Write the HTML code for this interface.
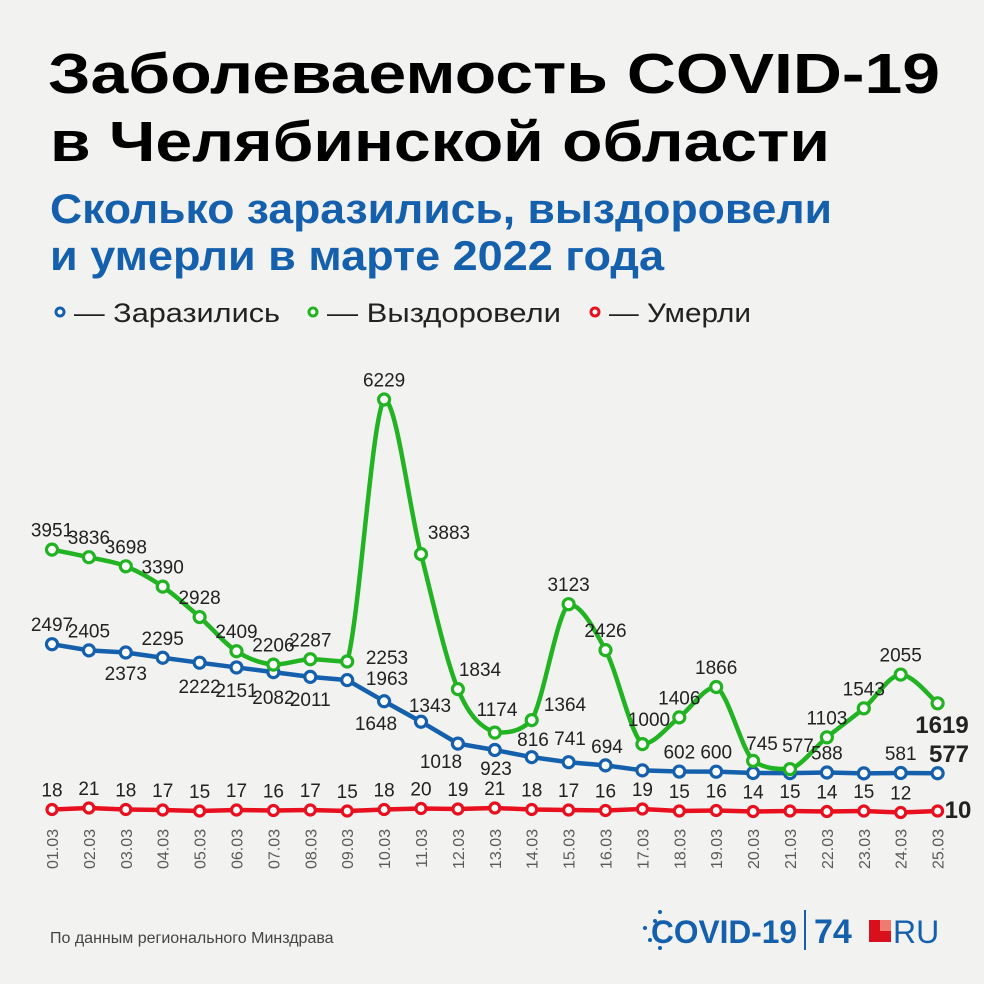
<!DOCTYPE html>
<html><head><meta charset="utf-8">
<style>
html,body{margin:0;padding:0;background:#f2f2f1;}
svg{display:block;}
text{font-family:"Liberation Sans","DejaVu Sans",sans-serif;}
</style></head>
<body>
<svg id="s" width="984" height="984" viewBox="0 0 984 984" xmlns="http://www.w3.org/2000/svg">
<rect width="984" height="984" fill="#f2f2f1"/>
<text x="48" y="93" font-size="57" font-weight="bold" fill="#000" textLength="892" lengthAdjust="spacingAndGlyphs">Заболеваемость COVID-19</text>
<text x="50" y="161" font-size="57" font-weight="bold" fill="#000" textLength="780" lengthAdjust="spacingAndGlyphs">в Челябинской области</text>
<text x="50" y="223" font-size="42" font-weight="bold" fill="#1560ad" textLength="782" lengthAdjust="spacingAndGlyphs">Сколько заразились, выздоровели</text>
<text x="50" y="270" font-size="42" font-weight="bold" fill="#1560ad" textLength="614" lengthAdjust="spacingAndGlyphs">и умерли в марте 2022 года</text>
<g font-size="27" fill="#222">
<circle cx="60" cy="312" r="4" fill="#fff" stroke="#1560ad" stroke-width="3"/>
<text x="74" y="322" textLength="206" lengthAdjust="spacingAndGlyphs">— Заразились</text>
<circle cx="313" cy="312" r="4" fill="#fff" stroke="#22b322" stroke-width="3"/>
<text x="327" y="322" textLength="234" lengthAdjust="spacingAndGlyphs">— Выздоровели</text>
<circle cx="595" cy="312" r="4" fill="#fff" stroke="#e8101e" stroke-width="3"/>
<text x="609" y="322" textLength="142" lengthAdjust="spacingAndGlyphs">— Умерли</text>
</g>
<g id="chart"></g>
<text x="50" y="943" font-size="16" fill="#444">По данным регионального Минздрава</text>
<g fill="#1560ad">
<circle cx="655" cy="921" r="2" /><circle cx="645" cy="928" r="2"/><circle cx="660" cy="912" r="2"/><circle cx="650" cy="940" r="2"/><circle cx="660" cy="948" r="2"/>
<text x="651" y="943" font-size="32" font-weight="bold" textLength="146" lengthAdjust="spacingAndGlyphs">COVID-19</text>
<rect x="804" y="910" width="2" height="40"/>
<text x="814" y="943" font-size="34" font-weight="bold">74</text>
<text x="893" y="943" font-size="32">RU</text>
</g>
<rect x="869" y="920" width="22" height="22" fill="#d8101e"/>
<rect x="880" y="920" width="11" height="11" fill="#f07a70"/>
</svg>
<script>
var NS="http://www.w3.org/2000/svg",g=document.getElementById("chart");
function el(t,a,p){var e=document.createElementNS(NS,t);for(var k in a)e.setAttribute(k,a[k]);(p||g).appendChild(e);return e;}
function X(i){return 52+i*36.9;}
var green=[3951,3836,3698,3390,2928,2409,2206,2287,2253,6229,3883,1834,1174,1364,3123,2426,1000,1406,1866,745,620,1103,1543,2055,1619];
var blue=[2497,2405,2373,2295,2222,2151,2082,2011,1963,1648,1343,1018,923,816,741,694,619,602,600,580,578,588,575,581,577];
var red=[18,21,18,17,15,17,16,17,15,18,20,19,21,18,17,16,19,15,16,14,15,14,15,12,10];
var gy=green.map(function(v){return 810-0.0659*v;}),by=blue.map(function(v){return 812-0.0672*v;}),ry=red.map(function(v){return 818.5-0.5*v;});
ry[24]=811;
for(var i=0;i<25;i++){var t=el("text",{x:0,y:0,"font-size":"16",fill:"#5a5a5a","text-anchor":"end",transform:"translate("+(X(i)+6)+",829) rotate(-90)"});t.textContent=(i+1<10?"0":"")+(i+1)+".03";}
var d="";for(i=0;i<25;i++)d+=(i?"L":"M")+X(i)+","+ry[i];
el("path",{d:d,fill:"none",stroke:"#e8101e","stroke-width":"4.5"});
d="";for(i=0;i<25;i++)d+=(i?"L":"M")+X(i)+","+by[i];
el("path",{d:d,fill:"none",stroke:"#1560ad","stroke-width":"4.5"});
function cl(v,a,b){var lo=Math.min(a,b),hi=Math.max(a,b);return Math.max(lo,Math.min(hi,v));}
d="M"+X(0)+","+gy[0];
for(i=0;i<24;i++){var x0=X(Math.max(i-1,0)),y0=gy[Math.max(i-1,0)],x1=X(i),y1=gy[i],x2=X(i+1),y2=gy[i+1],x3=X(Math.min(i+2,24)),y3=gy[Math.min(i+2,24)];
d+="C"+(x1+(x2-x0)/6)+","+cl(y1+(y2-y0)/6,y1,y2)+" "+(x2-(x3-x1)/6)+","+cl(y2-(y3-y1)/6,y1,y2)+" "+x2+","+y2;}
el("path",{d:d,fill:"none",stroke:"#22b322","stroke-width":"4.5"});
for(i=0;i<25;i++){
el("circle",{cx:X(i),cy:ry[i],r:5,fill:"#fff",stroke:"#e8101e","stroke-width":"3.2"});
el("circle",{cx:X(i),cy:by[i],r:5.5,fill:"#fff",stroke:"#1560ad","stroke-width":"3.2"});
el("circle",{cx:X(i),cy:gy[i],r:5.5,fill:"#fff",stroke:"#22b322","stroke-width":"3.2"});}
function lab(x,y,s,b){var t=el("text",{x:x,y:y,"font-size":b?"24":"19",fill:"#222","text-anchor":"middle","font-weight":b?"bold":"normal"});t.textContent=s;}
var gl={8:[387,664],10:[449,539],11:[480,676],12:[497,716],13:[565,711],16:[649,726],19:[762,750],20:[798,752]};
var gt=green.slice();gt[20]=577;
for(i=0;i<24;i++){var p=gl[i]||[X(i),gy[i]-13];lab(p[0],p[1],gt[i]);}
lab(942,733,"1619",1);
var bl={2:[X(2),680],4:[X(4),693],5:[X(5),697],6:[X(6),704],7:[X(7),706],8:[387,685],9:[376,730],10:[430,712],11:[441,768],12:[496,775],13:[533,746],14:[570,745],15:[607,753]};
var skip={16:1,19:1,20:1,22:1};
for(i=0;i<24;i++){if(skip[i])continue;var p=bl[i]||[X(i),by[i]-13];lab(p[0],p[1],blue[i]);}
lab(949,762,"577",1);
for(i=0;i<24;i++)lab(X(i),ry[i]-13,red[i]);
lab(958,818,"10",1);
</script>
</body></html>
